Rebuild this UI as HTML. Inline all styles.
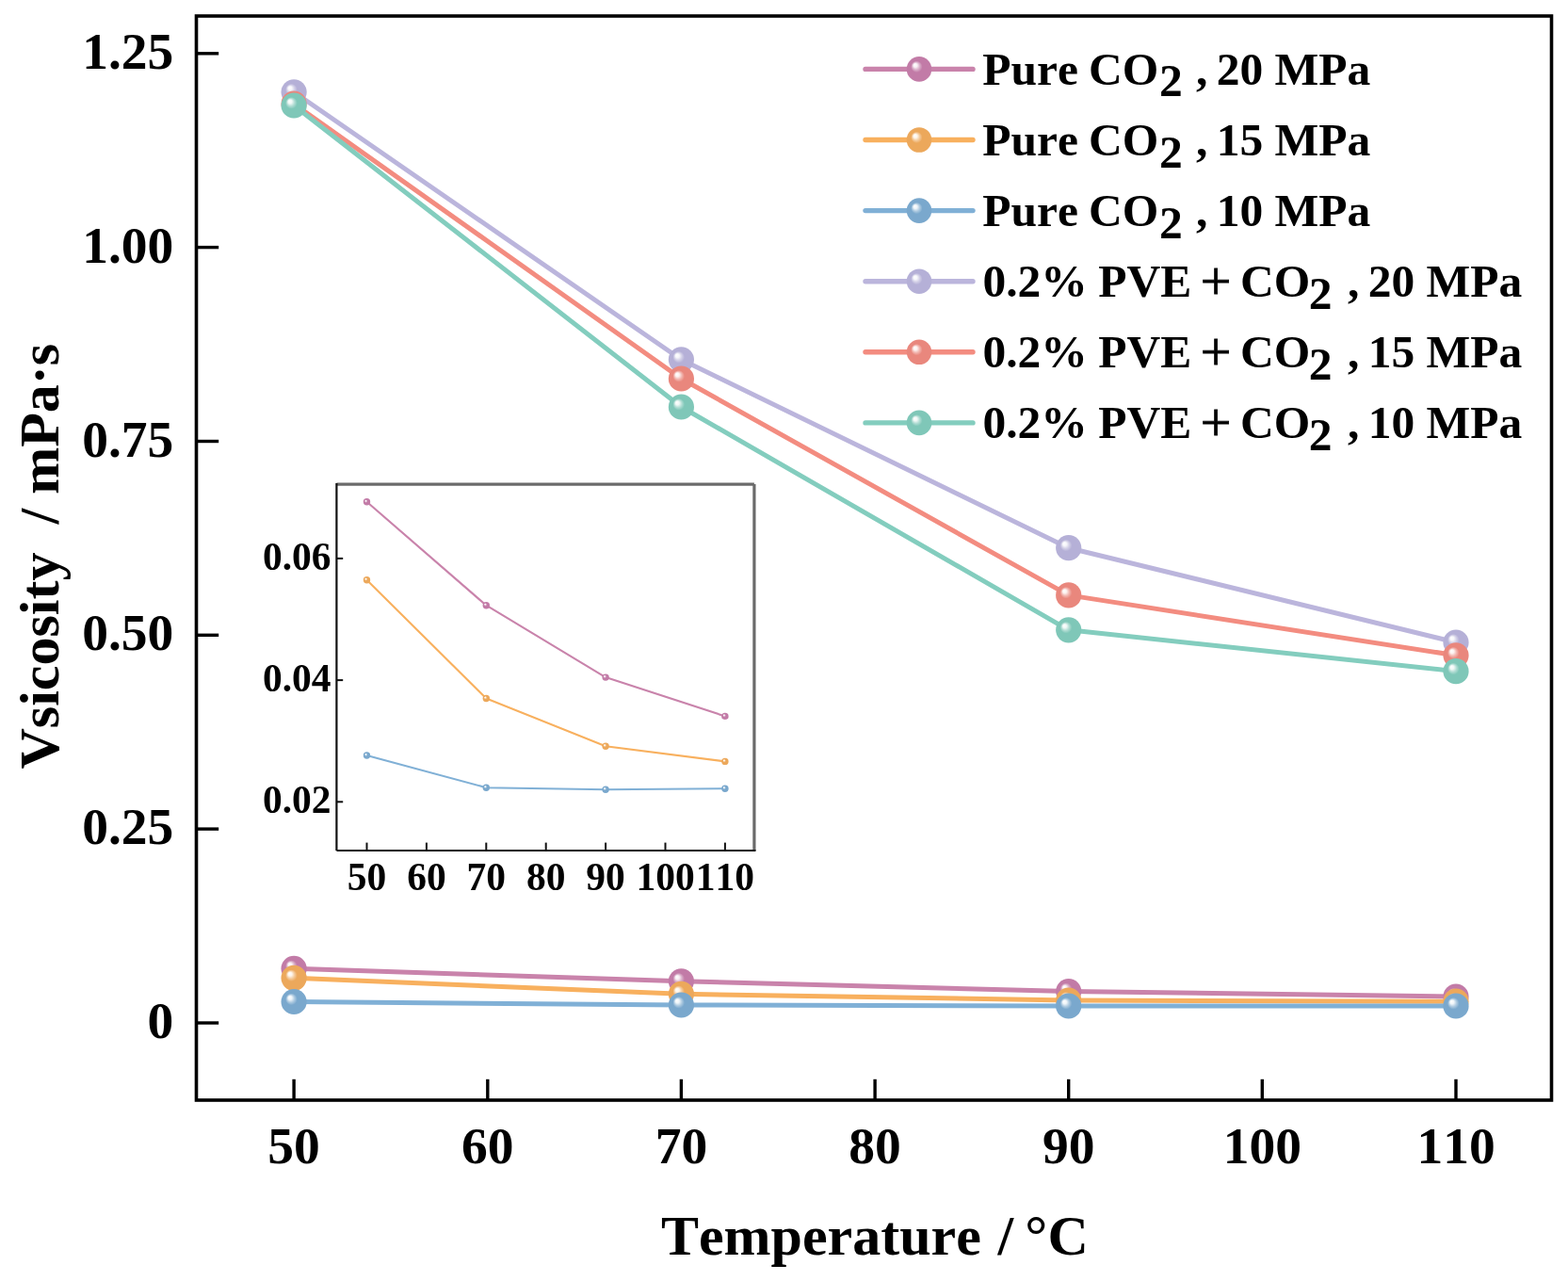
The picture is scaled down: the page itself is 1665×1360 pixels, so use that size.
<!DOCTYPE html><html><head><meta charset="utf-8"><title>Viscosity vs Temperature</title>
<style>html,body{margin:0;padding:0;background:#fff;}svg{display:block;}text{font-family:'Liberation Serif','Times New Roman',serif;font-weight:bold;fill:#000;font-kerning:none;}</style></head><body>
<svg width="1665" height="1360" viewBox="0 0 1665 1360">
<defs>
<radialGradient id="g_pink" cx="0.5" cy="0.5" r="0.5" fx="0.32" fy="0.32"><stop offset="0" stop-color="#ffffff"/><stop offset="0.15" stop-color="#f8eff4"/><stop offset="0.3" stop-color="#dab0ca"/><stop offset="0.46" stop-color="#c27ba7"/><stop offset="1" stop-color="#c27ba7"/></radialGradient>
<radialGradient id="g_orange" cx="0.5" cy="0.5" r="0.5" fx="0.32" fy="0.32"><stop offset="0" stop-color="#ffffff"/><stop offset="0.15" stop-color="#fdf5eb"/><stop offset="0.3" stop-color="#f4cb9d"/><stop offset="0.46" stop-color="#eca85b"/><stop offset="1" stop-color="#eca85b"/></radialGradient>
<radialGradient id="g_blue" cx="0.5" cy="0.5" r="0.5" fx="0.32" fy="0.32"><stop offset="0" stop-color="#ffffff"/><stop offset="0.15" stop-color="#eff5f9"/><stop offset="0.3" stop-color="#afcbe1"/><stop offset="0.46" stop-color="#7aa8cd"/><stop offset="1" stop-color="#7aa8cd"/></radialGradient>
<radialGradient id="g_lav" cx="0.5" cy="0.5" r="0.5" fx="0.32" fy="0.32"><stop offset="0" stop-color="#ffffff"/><stop offset="0.15" stop-color="#f6f6fa"/><stop offset="0.3" stop-color="#d3d0e7"/><stop offset="0.46" stop-color="#b5b0d7"/><stop offset="1" stop-color="#b5b0d7"/></radialGradient>
<radialGradient id="g_red" cx="0.5" cy="0.5" r="0.5" fx="0.32" fy="0.32"><stop offset="0" stop-color="#ffffff"/><stop offset="0.15" stop-color="#fcf1ef"/><stop offset="0.3" stop-color="#f2b7b1"/><stop offset="0.46" stop-color="#e9877d"/><stop offset="1" stop-color="#e9877d"/></radialGradient>
<radialGradient id="g_green" cx="0.5" cy="0.5" r="0.5" fx="0.32" fy="0.32"><stop offset="0" stop-color="#ffffff"/><stop offset="0.15" stop-color="#f0f8f6"/><stop offset="0.3" stop-color="#b2ddd4"/><stop offset="0.46" stop-color="#7fc7b8"/><stop offset="1" stop-color="#7fc7b8"/></radialGradient>
</defs>
<rect width="1665" height="1360" fill="#fff"/>
<polyline points="312.1,1028.3 723.4,1041.8 1134.7,1052.5 1546.0,1058.0" fill="none" stroke="#c983ab" stroke-width="5.0" stroke-linejoin="round"/>
<circle cx="312.1" cy="1028.3" r="13.6" fill="url(#g_pink)"/>
<circle cx="723.4" cy="1041.8" r="13.6" fill="url(#g_pink)"/>
<circle cx="1134.7" cy="1052.5" r="13.6" fill="url(#g_pink)"/>
<circle cx="1546.0" cy="1058.0" r="13.6" fill="url(#g_pink)"/>
<polyline points="312.1,1038.3 723.4,1055.3 1134.7,1062.0 1546.0,1063.2" fill="none" stroke="#f8b05e" stroke-width="5.0" stroke-linejoin="round"/>
<circle cx="312.1" cy="1038.3" r="13.6" fill="url(#g_orange)"/>
<circle cx="723.4" cy="1055.3" r="13.6" fill="url(#g_orange)"/>
<circle cx="1134.7" cy="1062.0" r="13.6" fill="url(#g_orange)"/>
<circle cx="1546.0" cy="1063.2" r="13.6" fill="url(#g_orange)"/>
<polyline points="312.1,1063.5 723.4,1067.0 1134.7,1068.0 1546.0,1068.0" fill="none" stroke="#80b0d6" stroke-width="5.0" stroke-linejoin="round"/>
<circle cx="312.1" cy="1063.5" r="13.6" fill="url(#g_blue)"/>
<circle cx="723.4" cy="1067.0" r="13.6" fill="url(#g_blue)"/>
<circle cx="1134.7" cy="1068.0" r="13.6" fill="url(#g_blue)"/>
<circle cx="1546.0" cy="1068.0" r="13.6" fill="url(#g_blue)"/>
<polyline points="312.1,97.8 723.4,381.8 1134.7,581.7 1546.0,682.0" fill="none" stroke="#bbb5dc" stroke-width="5.0" stroke-linejoin="round"/>
<circle cx="312.1" cy="97.8" r="13.6" fill="url(#g_lav)"/>
<circle cx="723.4" cy="381.8" r="13.6" fill="url(#g_lav)"/>
<circle cx="1134.7" cy="581.7" r="13.6" fill="url(#g_lav)"/>
<circle cx="1546.0" cy="682.0" r="13.6" fill="url(#g_lav)"/>
<polyline points="312.1,110.2 723.4,402.0 1134.7,631.9 1546.0,695.8" fill="none" stroke="#f38c80" stroke-width="5.0" stroke-linejoin="round"/>
<circle cx="312.1" cy="110.2" r="13.6" fill="url(#g_red)"/>
<circle cx="723.4" cy="402.0" r="13.6" fill="url(#g_red)"/>
<circle cx="1134.7" cy="631.9" r="13.6" fill="url(#g_red)"/>
<circle cx="1546.0" cy="695.8" r="13.6" fill="url(#g_red)"/>
<polyline points="312.1,112.0 723.4,432.0 1134.7,668.8 1546.0,712.7" fill="none" stroke="#83cdbe" stroke-width="5.0" stroke-linejoin="round"/>
<circle cx="312.1" cy="112.0" r="13.6" fill="url(#g_green)"/>
<circle cx="723.4" cy="432.0" r="13.6" fill="url(#g_green)"/>
<circle cx="1134.7" cy="668.8" r="13.6" fill="url(#g_green)"/>
<circle cx="1546.0" cy="712.7" r="13.6" fill="url(#g_green)"/>
<rect x="208.5" y="17.0" width="1439.0" height="1151.0" fill="none" stroke="#000" stroke-width="3.6"/>
<line x1="208.5" y1="1086.0" x2="232.2" y2="1086.0" stroke="#000" stroke-width="3.4"/>
<line x1="208.5" y1="880.1" x2="232.2" y2="880.1" stroke="#000" stroke-width="3.4"/>
<line x1="208.5" y1="674.3" x2="232.2" y2="674.3" stroke="#000" stroke-width="3.4"/>
<line x1="208.5" y1="468.5" x2="232.2" y2="468.5" stroke="#000" stroke-width="3.4"/>
<line x1="208.5" y1="262.6" x2="232.2" y2="262.6" stroke="#000" stroke-width="3.4"/>
<line x1="208.5" y1="56.8" x2="232.2" y2="56.8" stroke="#000" stroke-width="3.4"/>
<line x1="312.1" y1="1168.0" x2="312.1" y2="1145.8" stroke="#000" stroke-width="3.4"/>
<line x1="517.8" y1="1168.0" x2="517.8" y2="1145.8" stroke="#000" stroke-width="3.4"/>
<line x1="723.4" y1="1168.0" x2="723.4" y2="1145.8" stroke="#000" stroke-width="3.4"/>
<line x1="929.1" y1="1168.0" x2="929.1" y2="1145.8" stroke="#000" stroke-width="3.4"/>
<line x1="1134.7" y1="1168.0" x2="1134.7" y2="1145.8" stroke="#000" stroke-width="3.4"/>
<line x1="1340.3" y1="1168.0" x2="1340.3" y2="1145.8" stroke="#000" stroke-width="3.4"/>
<line x1="1546.0" y1="1168.0" x2="1546.0" y2="1145.8" stroke="#000" stroke-width="3.4"/>
<text x="184.3" y="1102.1" font-size="55.5" text-anchor="end">0</text>
<text x="184.3" y="896.2" font-size="55.5" text-anchor="end">0.25</text>
<text x="184.3" y="690.4" font-size="55.5" text-anchor="end">0.50</text>
<text x="184.3" y="484.6" font-size="55.5" text-anchor="end">0.75</text>
<text x="184.3" y="278.7" font-size="55.5" text-anchor="end">1.00</text>
<text x="184.3" y="72.8" font-size="55.5" text-anchor="end">1.25</text>
<text x="312.1" y="1234.5" font-size="55.5" text-anchor="middle">50</text>
<text x="517.8" y="1234.5" font-size="55.5" text-anchor="middle">60</text>
<text x="723.4" y="1234.5" font-size="55.5" text-anchor="middle">70</text>
<text x="929.1" y="1234.5" font-size="55.5" text-anchor="middle">80</text>
<text x="1134.7" y="1234.5" font-size="55.5" text-anchor="middle">90</text>
<text x="1340.3" y="1234.5" font-size="55.5" text-anchor="middle">100</text>
<text x="1546.0" y="1234.5" font-size="55.5" text-anchor="middle">110</text>
<text y="1331.8" font-size="60"><tspan x="701.9">Temperature</tspan> <tspan x="1059.5">/</tspan> <tspan x="1088.3">°</tspan><tspan x="1112.5">C</tspan></text>
<text transform="translate(62.4,816.5) rotate(-90)" x="0" y="0" font-size="60" xml:space="preserve">Vsicosity  / mPa·s</text>
<line x1="919" y1="73.4" x2="1033" y2="73.4" stroke="#c983ab" stroke-width="5.4" stroke-linecap="round"/>
<circle cx="976" cy="73.4" r="13.3" fill="url(#g_pink)"/>
<text x="1043.3" y="89.8" font-size="49.5">Pure</text>
<text x="1155.9" y="89.8" font-size="49.5">CO</text>
<text x="1270.0" y="89.8" font-size="49.5">,</text>
<text x="1291.7" y="89.8" font-size="49.5">20</text>
<text x="1353.5" y="89.8" font-size="49.5">MPa</text>
<text x="1231.1" y="102.4" font-size="49.5">2</text>
<line x1="919" y1="148.5" x2="1033" y2="148.5" stroke="#f8b05e" stroke-width="5.4" stroke-linecap="round"/>
<circle cx="976" cy="148.5" r="13.3" fill="url(#g_orange)"/>
<text x="1043.3" y="164.9" font-size="49.5">Pure</text>
<text x="1155.9" y="164.9" font-size="49.5">CO</text>
<text x="1270.0" y="164.9" font-size="49.5">,</text>
<text x="1291.7" y="164.9" font-size="49.5">15</text>
<text x="1353.5" y="164.9" font-size="49.5">MPa</text>
<text x="1231.1" y="177.5" font-size="49.5">2</text>
<line x1="919" y1="223.6" x2="1033" y2="223.6" stroke="#80b0d6" stroke-width="5.4" stroke-linecap="round"/>
<circle cx="976" cy="223.6" r="13.3" fill="url(#g_blue)"/>
<text x="1043.3" y="240.0" font-size="49.5">Pure</text>
<text x="1155.9" y="240.0" font-size="49.5">CO</text>
<text x="1270.0" y="240.0" font-size="49.5">,</text>
<text x="1291.7" y="240.0" font-size="49.5">10</text>
<text x="1353.5" y="240.0" font-size="49.5">MPa</text>
<text x="1231.1" y="252.6" font-size="49.5">2</text>
<line x1="919" y1="298.7" x2="1033" y2="298.7" stroke="#bbb5dc" stroke-width="5.4" stroke-linecap="round"/>
<circle cx="976" cy="298.7" r="13.3" fill="url(#g_lav)"/>
<text x="1274.8" y="318.1" font-size="58" style="font-weight:normal;stroke:#000;stroke-width:0.8">+</text>
<text x="1043.4" y="315.1" font-size="49.5">0.2%</text>
<text x="1166.2" y="315.1" font-size="49.5">PVE</text>
<text x="1317.0" y="315.1" font-size="49.5">CO</text>
<text x="1431.1" y="315.1" font-size="49.5">,</text>
<text x="1452.8" y="315.1" font-size="49.5">20</text>
<text x="1514.6" y="315.1" font-size="49.5">MPa</text>
<text x="1389.8" y="327.7" font-size="49.5">2</text>
<line x1="919" y1="373.8" x2="1033" y2="373.8" stroke="#f38c80" stroke-width="5.4" stroke-linecap="round"/>
<circle cx="976" cy="373.8" r="13.3" fill="url(#g_red)"/>
<text x="1274.8" y="393.2" font-size="58" style="font-weight:normal;stroke:#000;stroke-width:0.8">+</text>
<text x="1043.4" y="390.2" font-size="49.5">0.2%</text>
<text x="1166.2" y="390.2" font-size="49.5">PVE</text>
<text x="1317.0" y="390.2" font-size="49.5">CO</text>
<text x="1431.1" y="390.2" font-size="49.5">,</text>
<text x="1452.8" y="390.2" font-size="49.5">15</text>
<text x="1514.6" y="390.2" font-size="49.5">MPa</text>
<text x="1389.8" y="402.8" font-size="49.5">2</text>
<line x1="919" y1="448.9" x2="1033" y2="448.9" stroke="#83cdbe" stroke-width="5.4" stroke-linecap="round"/>
<circle cx="976" cy="448.9" r="13.3" fill="url(#g_green)"/>
<text x="1274.8" y="468.3" font-size="58" style="font-weight:normal;stroke:#000;stroke-width:0.8">+</text>
<text x="1043.4" y="465.3" font-size="49.5">0.2%</text>
<text x="1166.2" y="465.3" font-size="49.5">PVE</text>
<text x="1317.0" y="465.3" font-size="49.5">CO</text>
<text x="1431.1" y="465.3" font-size="49.5">,</text>
<text x="1452.8" y="465.3" font-size="49.5">10</text>
<text x="1514.6" y="465.3" font-size="49.5">MPa</text>
<text x="1389.8" y="477.9" font-size="49.5">2</text>
<rect x="357.4" y="514.1" width="443.5" height="388.9" fill="#fff" stroke="none"/>
<polyline points="389.5,532.8 516.3,642.7 643.1,719.1 769.9,760.4" fill="none" stroke="#c983ab" stroke-width="2.1" stroke-linejoin="round"/>
<circle cx="389.5" cy="532.8" r="3.7" fill="url(#g_pink)"/>
<circle cx="516.3" cy="642.7" r="3.7" fill="url(#g_pink)"/>
<circle cx="643.1" cy="719.1" r="3.7" fill="url(#g_pink)"/>
<circle cx="769.9" cy="760.4" r="3.7" fill="url(#g_pink)"/>
<polyline points="389.5,615.7 516.3,741.5 643.1,792.2 769.9,808.4" fill="none" stroke="#f8b05e" stroke-width="2.1" stroke-linejoin="round"/>
<circle cx="389.5" cy="615.7" r="3.7" fill="url(#g_orange)"/>
<circle cx="516.3" cy="741.5" r="3.7" fill="url(#g_orange)"/>
<circle cx="643.1" cy="792.2" r="3.7" fill="url(#g_orange)"/>
<circle cx="769.9" cy="808.4" r="3.7" fill="url(#g_orange)"/>
<polyline points="389.5,802.0 516.3,836.2 643.1,838.2 769.9,837.2" fill="none" stroke="#80b0d6" stroke-width="2.1" stroke-linejoin="round"/>
<circle cx="389.5" cy="802.0" r="3.7" fill="url(#g_blue)"/>
<circle cx="516.3" cy="836.2" r="3.7" fill="url(#g_blue)"/>
<circle cx="643.1" cy="838.2" r="3.7" fill="url(#g_blue)"/>
<circle cx="769.9" cy="837.2" r="3.7" fill="url(#g_blue)"/>
<line x1="357.4" y1="514.1" x2="800.9" y2="514.1" stroke="#6a6a6a" stroke-width="3.4"/>
<line x1="800.9" y1="514.1" x2="800.9" y2="903.0" stroke="#6a6a6a" stroke-width="3.2"/>
<line x1="357.4" y1="513.1" x2="357.4" y2="903.0" stroke="#111" stroke-width="2.2"/>
<line x1="357.4" y1="903.0" x2="802.5" y2="903.0" stroke="#111" stroke-width="2.2"/>
<line x1="357.4" y1="851.3" x2="364.2" y2="851.3" stroke="#111" stroke-width="2"/>
<text x="351.6" y="863.2" font-size="41.5" text-anchor="end">0.02</text>
<line x1="357.4" y1="722.1" x2="364.2" y2="722.1" stroke="#111" stroke-width="2"/>
<text x="351.6" y="734.0" font-size="41.5" text-anchor="end">0.04</text>
<line x1="357.4" y1="592.9" x2="364.2" y2="592.9" stroke="#111" stroke-width="2"/>
<text x="351.6" y="604.8" font-size="41.5" text-anchor="end">0.06</text>
<line x1="389.5" y1="903.0" x2="389.5" y2="894.6" stroke="#111" stroke-width="2"/>
<text x="389.5" y="944.8" font-size="41.5" text-anchor="middle">50</text>
<line x1="452.9" y1="903.0" x2="452.9" y2="894.6" stroke="#111" stroke-width="2"/>
<text x="452.9" y="944.8" font-size="41.5" text-anchor="middle">60</text>
<line x1="516.3" y1="903.0" x2="516.3" y2="894.6" stroke="#111" stroke-width="2"/>
<text x="516.3" y="944.8" font-size="41.5" text-anchor="middle">70</text>
<line x1="579.7" y1="903.0" x2="579.7" y2="894.6" stroke="#111" stroke-width="2"/>
<text x="579.7" y="944.8" font-size="41.5" text-anchor="middle">80</text>
<line x1="643.1" y1="903.0" x2="643.1" y2="894.6" stroke="#111" stroke-width="2"/>
<text x="643.1" y="944.8" font-size="41.5" text-anchor="middle">90</text>
<line x1="706.5" y1="903.0" x2="706.5" y2="894.6" stroke="#111" stroke-width="2"/>
<text x="706.5" y="944.8" font-size="41.5" text-anchor="middle">100</text>
<line x1="769.9" y1="903.0" x2="769.9" y2="894.6" stroke="#111" stroke-width="2"/>
<text x="769.9" y="944.8" font-size="41.5" text-anchor="middle">110</text>
</svg></body></html>
